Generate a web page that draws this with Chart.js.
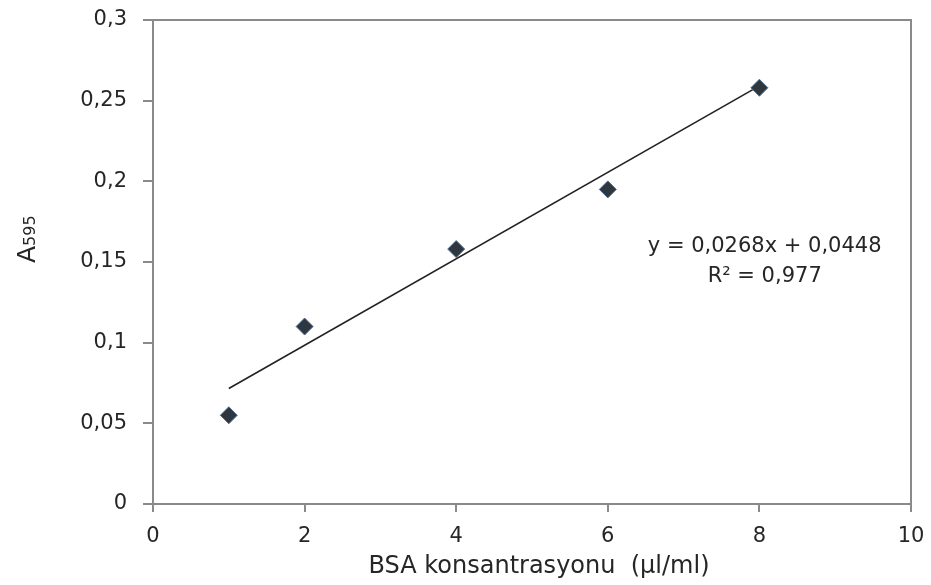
<!DOCTYPE html>
<html>
<head>
<meta charset="utf-8">
<script src="https://cdn.jsdelivr.net/npm/chart.js@4.4.1/dist/chart.umd.min.js"></script>
<style>
  html, body { margin: 0; padding: 0; background: #fff; }
  #wrap { width: 931px; height: 585px; }
</style>
</head>
<body>
<div id="wrap"><canvas id="bsa-canvas"></canvas></div>
<script>
const concentrations = [1, 2, 4, 6, 8];
const absorbance = [0.055, 0.11, 0.158, 0.195, 0.258];

// trendline end points as drawn in the picture
const trendX = [1, 8];
const trendY = [0.0716, 0.2592];

const equationLines = ['y = 0,0268x + 0,0448', 'R² = 0,977'];
const xTitle = 'BSA konsantrasyonu  (µl/ml)';

const fontFamily = '"DejaVu Sans", "Noto Sans", sans-serif';
const textColor = '#262626';
const axisGray = '#8a8a8a';

function commaFormat(value) {
    return Number(value.toFixed(2)).toString().replace('.', ',');
}

// frame around the plot area, axis titles and the equation label
const decorations = {
    id: 'decorations',
    afterDraw(chart) {
        const { ctx, chartArea, scales } = chart;
        ctx.save();
        ctx.strokeStyle = axisGray;
        ctx.lineWidth = 2;
        ctx.strokeRect(chartArea.left, chartArea.top, chartArea.right - chartArea.left, chartArea.bottom - chartArea.top);

        // x axis title
        ctx.fillStyle = textColor;
        ctx.font = '24px ' + fontFamily;
        ctx.textAlign = 'center';
        ctx.textBaseline = 'middle';
        ctx.fillText(xTitle, 539, 567);

        // y axis title "A595" with smaller digits
        ctx.translate(35, 263);
        ctx.rotate(-Math.PI / 2);
        ctx.textBaseline = 'alphabetic';
        ctx.textAlign = 'left';
        ctx.font = '25px ' + fontFamily;
        ctx.fillText('A', 0, 0);
        const aw = ctx.measureText('A').width;
        ctx.font = '16px ' + fontFamily;
        ctx.fillText('595', aw, 0);
        ctx.restore();

        // trendline equation
        ctx.save();
        ctx.fillStyle = textColor;
        ctx.font = '21px ' + fontFamily;
        ctx.textAlign = 'center';
        ctx.textBaseline = 'middle';
        const cx = scales.x.getPixelForValue(8.07);
        const cy = scales.y.getPixelForValue(0.1594);
        ctx.fillText(equationLines[0], cx, cy);
        ctx.fillText(equationLines[1], cx, cy + 30);
        ctx.restore();
    }
};

const ctx = document.getElementById('bsa-canvas').getContext('2d');

const data = {
    datasets: [
        {
            type: 'scatter',
            label: 'A595',
            data: concentrations.map((x, i) => ({ x: x, y: absorbance[i] })),
            pointStyle: 'rectRot',
            pointRadius: 8.5,
            pointBackgroundColor: '#2e3640',
            pointBorderColor: '#51708f',
            pointBorderWidth: 1,
            order: 1
        },
        {
            type: 'line',
            label: 'trend',
            data: trendX.map((x, i) => ({ x: x, y: trendY[i] })),
            borderColor: '#222',
            borderWidth: 1.6,
            pointRadius: 0,
            fill: false,
            order: 2
        }
    ]
};

const options = {
    responsive: true,
    maintainAspectRatio: false,
    animation: false,
    layout: { padding: { left: 0, right: 20, top: 20, bottom: 0 } },
    plugins: {
        legend: { display: false },
        tooltip: { enabled: false }
    },
    scales: {
        x: {
            type: 'linear',
            min: 0,
            max: 10,
            ticks: {
                stepSize: 2,
                color: textColor,
                padding: 12,
                font: { family: fontFamily, size: 21 },
                callback: (v) => commaFormat(v)
            },
            grid: { drawOnChartArea: false, color: axisGray, lineWidth: 2, tickLength: 8 },
            border: { color: axisGray, width: 2 },
            afterFit: (scale) => {
                // keep the tick labels from pushing the plot area around
                scale.height = 81;
                scale.paddingLeft = 0;
                scale.paddingRight = 0;
            }
        },
        y: {
            type: 'linear',
            min: 0,
            max: 0.3,
            ticks: {
                stepSize: 0.05,
                color: textColor,
                padding: 16,
                font: { family: fontFamily, size: 21 },
                callback: (v) => commaFormat(v)
            },
            grid: { drawOnChartArea: false, color: axisGray, lineWidth: 2, tickLength: 10 },
            border: { color: axisGray, width: 2 },
            afterFit: (scale) => {
                scale.width = 153;
                scale.paddingTop = 0;
                scale.paddingBottom = 0;
            }
        }
    }
};

new Chart(ctx, {
    data: data,
    options: options,
    plugins: [decorations]
});
</script>
</body>
</html>
